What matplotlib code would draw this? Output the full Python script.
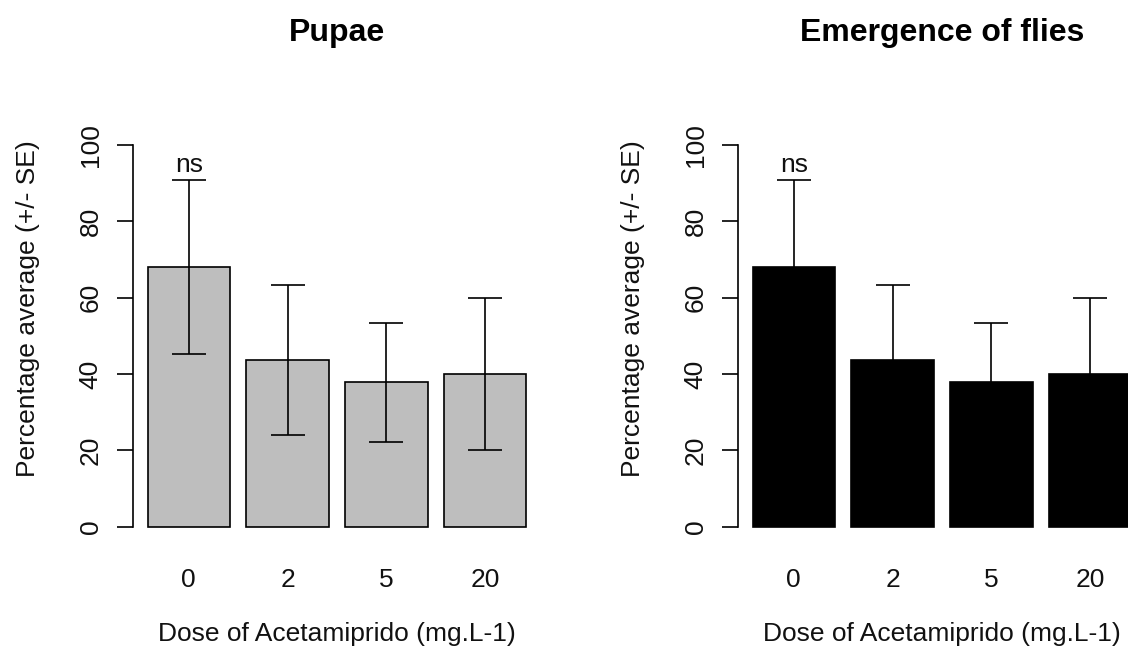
import matplotlib
matplotlib.use("Agg")
import matplotlib.pyplot as plt
import numpy as np

plt.rcParams['font.family'] = ['Liberation Sans', 'DejaVu Sans']

doses = ["0", "2", "5", "20"]
pupae_mean = [68.0, 43.6, 37.8, 40.0]
pupae_se = [22.8, 19.7, 15.6, 20.0]
emerg_mean = [68.0, 43.6, 37.8, 40.0]
emerg_se = [22.8, 19.7, 15.6, 20.0]
titles = ["Pupae", "Emergence of flies"]
bar_colors = ["#BEBEBE", "#000000"]
ns_label = "ns"
ylabel = "Percentage average (+/- SE)"
xlabel = "Dose of Acetamiprido (mg.L-1)"
yticks = [0, 20, 40, 60, 80, 100]

FS = 19
TFS = 23

W, H = 1128, 655
fig = plt.figure(figsize=(W / 100, H / 100), dpi=100)

def px_axes(left, top, right, bottom):
    return fig.add_axes([left / W, 1 - bottom / H, (right - left) / W, (bottom - top) / H])

panels = [
    (px_axes(132.5, 129.7, 541.5, 542), pupae_mean, pupae_se, titles[0], bar_colors[0]),
    (px_axes(737.5, 129.7, 1146.5, 542), emerg_mean, emerg_se, titles[1], bar_colors[1]),
]

for ax, means, ses, title, color in panels:
    n = len(means)
    x = 0.7 + 1.2 * np.arange(n)
    ax.bar(x, means, width=1.0, color=color, edgecolor="black", linewidth=1.2, zorder=2)
    ax.errorbar(x, means, yerr=ses, fmt="none", ecolor="black", elinewidth=1.2,
                capsize=12.5, capthick=1.2, zorder=3)
    ax.text(x[0], 94.8, ns_label, ha="center", va="center", fontsize=FS, color="#111111")
    ax.set_xlim(0.016, 4.984)
    ax.set_ylim(-4, 104)
    for s in ["top", "right", "bottom"]:
        ax.spines[s].set_visible(False)
    ax.spines["left"].set_bounds(0, 100)
    ax.spines["left"].set_linewidth(1.2)
    ax.set_yticks(yticks)
    ax.set_yticklabels([str(v) for v in yticks], rotation=90, va="center", fontsize=FS, color="#111111")
    ax.tick_params(axis="y", length=11.5, width=1.2, pad=10)
    ax.set_xticks(x)
    ax.set_xticklabels(doses, fontsize=FS, color="#111111")
    ax.tick_params(axis="x", length=0, pad=18.5)
    ax.set_ylabel(ylabel, fontsize=FS, labelpad=28, color="#111111")
    ax.yaxis.label.set_y(0.565)
    ax.set_xlabel(xlabel, fontsize=FS, labelpad=22, color="#111111")
    ax.set_title(title, fontsize=TFS, fontweight="bold", pad=64)
    ax.patch.set_alpha(0)

fig.savefig("out.png", dpi=100)
